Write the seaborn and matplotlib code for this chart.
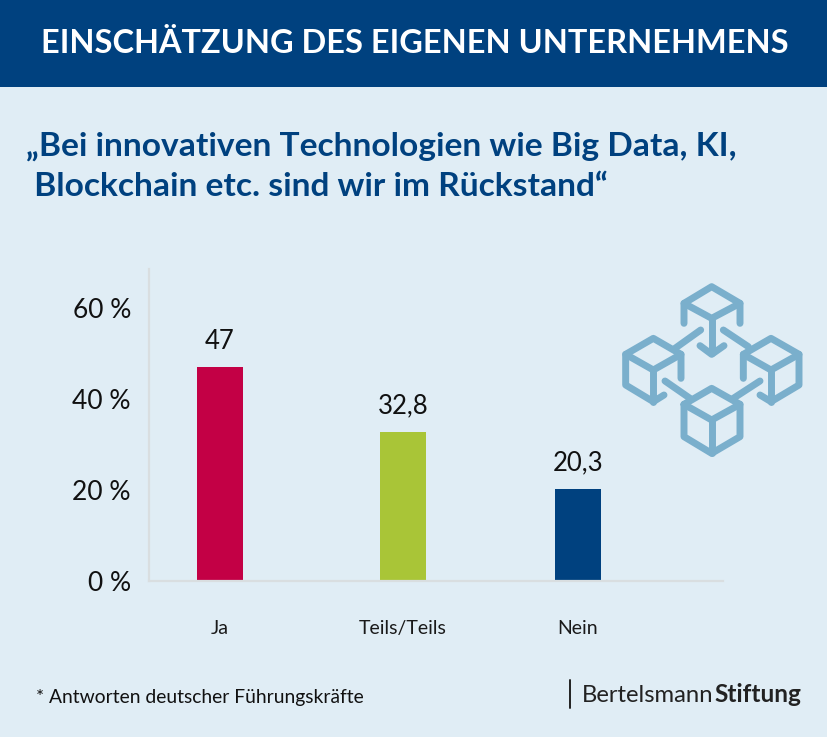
import matplotlib
matplotlib.use("Agg")
import matplotlib.pyplot as plt
import pandas as pd
import seaborn as sns
from matplotlib.lines import Line2D
from matplotlib.patches import Rectangle

categories = ["Ja", "Teils/Teils", "Nein"]
values = [47, 32.8, 20.3]
value_labels = ["47", "32,8", "20,3"]
bar_colors = ["#C30045", "#A9C537", "#00417F"]
y_ticks = [0, 20, 40, 60]
y_tick_labels = ["0 %", "20 %", "40 %", "60 %"]
header = "EINSCHÄTZUNG DES EIGENEN UNTERNEHMENS"
headline = ["„Bei innovativen Technologien wie Big Data, KI,", " Blockchain etc. sind wir im Rückstand“"]
footnote = "* Antworten deutscher Führungskräfte"

# layout: bar centres in pixels of the picture (the reference spaces them unevenly)
slot_centres = [220, 403, 578]
W, H = 828, 737
BG, NAVY, ICON = "#E0EDF5", "#00417F", "#7AAFCC"

sns.set_theme(style="white")
plt.rcParams["font.family"] = ["Lato", "DejaVu Sans"]

fig = plt.figure(figsize=(W / 100, H / 100), dpi=100, facecolor=BG)
ax = fig.add_axes([149 / W, 1 - 581 / H, (723 - 149) / W, (581 - 269) / H], facecolor="none")

df = pd.DataFrame({"pos": slot_centres, "value": values, "cat": categories})
sns.barplot(data=df, x="pos", y="value", hue="cat", hue_order=categories, palette=bar_colors,
            native_scale=True, dodge=False, legend=False, width=46 / 175, saturation=1,
            linewidth=0, ax=ax)
ax.set_xlim(149, 723)
ax.set_ylim(0, 312 / 4.55)
ax.set_xlabel("")
ax.set_ylabel("")
ax.set_xticks(slot_centres, categories, fontsize=14, color="#1a1a1a")
ax.set_yticks(y_ticks, y_tick_labels, fontsize=19, color="#111111")
ax.tick_params(axis="x", length=0, pad=28)
ax.tick_params(axis="y", length=0, pad=13)
for side in ("top", "right"):
    ax.spines[side].set_visible(False)
for side in ("left", "bottom"):
    ax.spines[side].set_color("#D9DEE0")
    ax.spines[side].set_linewidth(1.6)
for c, v, t in zip(slot_centres, values, value_labels):
    ax.annotate(t, (c, v), xytext=(0, 9.5), textcoords="offset points", ha="center", va="bottom",
                fontsize=18.5, color="#111111")

# page furniture and icon share an overlay in pixel coordinates
ov = fig.add_axes([0, 0, 1, 1], facecolor="none")
ov.set_xlim(0, W)
ov.set_ylim(H, 0)
ov.axis("off")
ov.add_patch(Rectangle((0, 0), W, 87, color=NAVY, lw=0))
ov.text(414.5, 43, header, color="white", fontsize=23.4, fontweight="bold", ha="center", va="center")
ov.text(26, 146, headline[0], color=NAVY, fontsize=24.1, fontweight="bold", ha="left", va="center")
ov.text(26, 186, headline[1], color=NAVY, fontsize=24.1, fontweight="bold", ha="left", va="center")
ov.text(36, 697, footnote, color="#111111", fontsize=13.9, ha="left", va="center")
ov.add_line(Line2D([570, 570], [680, 708], color="#222222", lw=1.4))
ov.text(582, 695, "Bertelsmann", color="#222222", fontsize=17.2, ha="left", va="center")
ov.text(714, 695, "Stiftung", color="#222222", fontsize=17.6, fontweight="bold", ha="left", va="center")

icon_paths = [
    [(222, 145), (222, 85), (305, 35), (390, 85), (390, 145)],
    [(222, 85), (305, 130), (390, 85)],
    [(305, 130), (305, 235)],
    [(270, 212), (305, 238), (342, 212)],
    [(213, 310), (213, 238), (130, 190), (47, 238), (47, 330), (130, 380), (162, 360)],
    [(47, 238), (130, 285), (213, 238)],
    [(130, 285), (130, 380)],
    [(195, 220), (272, 165)],
    [(400, 310), (400, 238), (483, 190), (567, 238), (567, 330), (483, 380), (450, 360)],
    [(400, 238), (483, 285), (567, 238)],
    [(483, 285), (483, 380)],
    [(415, 215), (340, 165)],
    [(222, 388), (305, 340), (390, 388), (390, 485), (305, 535), (222, 485), (222, 388)],
    [(222, 388), (305, 435), (390, 388)],
    [(305, 435), (305, 535)],
    [(165, 318), (240, 370)],
    [(450, 318), (370, 370)],
]
for path in icon_paths:
    ov.add_line(Line2D([610 + p[0] / 3 for p in path], [275 + p[1] / 3 for p in path],
                       color=ICON, lw=5, solid_capstyle="round", solid_joinstyle="round"))

fig.savefig("out.png", dpi=100, facecolor=BG)
